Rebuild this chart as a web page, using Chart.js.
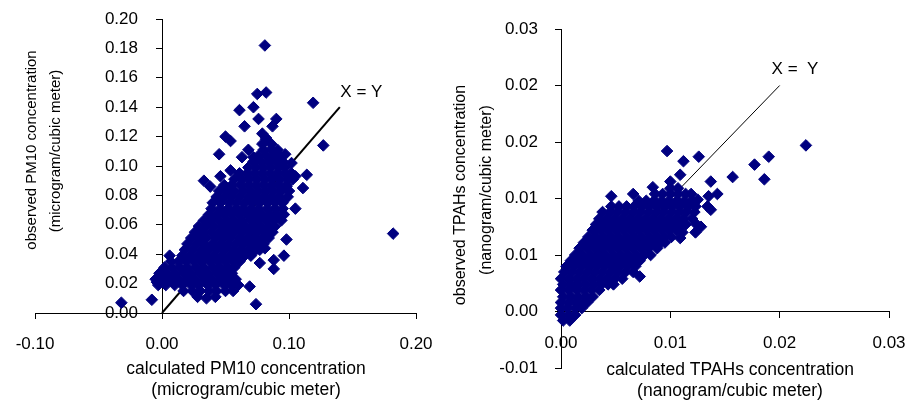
<!DOCTYPE html>
<html>
<head>
<meta charset="utf-8">
<title>Observed vs calculated concentrations</title>
<script src="https://cdn.jsdelivr.net/npm/chart.js@4.4.1/dist/chart.umd.min.js"></script>
<style>
  body { margin: 0; background: #fff; }
  #wrap { position: relative; width: 913px; height: 407px; overflow: hidden; background: #fff; }
  canvas { position: absolute; top: 0; }
  #pm10Chart { left: 0; }
  #tpahChart { left: 448px; }
</style>
</head>
<body>
<div id="wrap">
  <canvas id="pm10Chart" width="448" height="407"></canvas>
  <canvas id="tpahChart" width="465" height="407"></canvas>
</div>
<script>
// ---- PM10 panel ----
const pm10XTicks = [-0.10, 0.00, 0.10, 0.20];
const pm10XLabels = ["-0.10", "0.00", "0.10", "0.20"];
const pm10YTicks = [0.00, 0.02, 0.04, 0.06, 0.08, 0.10, 0.12, 0.14, 0.16, 0.18, 0.20];
const pm10YLabels = ["0.00", "0.02", "0.04", "0.06", "0.08", "0.10", "0.12", "0.14", "0.16", "0.18", "0.20"];
const pm10Identity = [0, 0.14];

// [calculated, observed]
const pm10Points = [
  [.028,.011],[.035,.010],[.042,.011],
  [.017,.015],[.024,.015],[.030,.015],[.037,.015],[.043,.015],[.050,.015],[.056,.015],
  [-.003,.019],[.003,.019],[.010,.019],[.016,.019],[.023,.019],[.029,.019],[.036,.019],[.042,.019],[.049,.019],[.055,.019],[.060,.019],
  [-.005,.023],[.001,.023],[.007,.023],[.013,.023],[.020,.023],[.026,.023],[.033,.023],[.039,.023],[.046,.023],[.052,.023],[.058,.023],
  [-.002,.027],[.004,.027],[.010,.027],[.017,.027],[.023,.027],[.030,.027],[.036,.027],[.043,.027],[.049,.027],[.055,.027],
  [.002,.031],[.008,.031],[.014,.031],[.020,.031],[.027,.031],[.033,.031],[.040,.031],[.046,.031],[.052,.031],[.057,.031],
  [.007,.035],[.013,.035],[.019,.035],[.025,.035],[.031,.035],[.038,.035],[.044,.035],[.050,.035],[.056,.035],[.061,.035],
  [.016,.039],[.022,.039],[.028,.039],[.034,.039],[.041,.039],[.047,.039],[.053,.039],[.059,.039],[.065,.039],[.070,.039],
  [.018,.043],[.024,.043],[.031,.043],[.037,.043],[.043,.043],[.049,.043],[.056,.043],[.062,.043],[.068,.043],[.074,.043],[.077,.043],
  [.020,.047],[.027,.047],[.033,.047],[.040,.047],[.046,.047],[.052,.047],[.058,.047],[.064,.047],[.070,.047],[.076,.047],[.080,.047],
  [.023,.051],[.029,.051],[.035,.051],[.042,.051],[.048,.051],[.054,.051],[.061,.051],[.067,.051],[.073,.051],[.079,.051],[.084,.051],
  [.026,.055],[.032,.055],[.039,.055],[.045,.055],[.051,.055],[.057,.055],[.063,.055],[.069,.055],[.075,.055],[.081,.055],[.087,.055],
  [.029,.059],[.035,.059],[.041,.059],[.048,.059],[.054,.059],[.060,.059],[.066,.059],[.072,.059],[.078,.059],[.084,.059],[.089,.059],
  [.033,.063],[.039,.063],[.045,.063],[.051,.063],[.057,.063],[.063,.063],[.070,.063],[.076,.063],[.082,.063],[.088,.063],[.094,.063],
  [.037,.067],[.043,.067],[.049,.067],[.055,.067],[.061,.067],[.067,.067],[.073,.067],[.079,.067],[.085,.067],[.091,.067],[.096,.067],
  [.039,.071],[.046,.071],[.052,.071],[.058,.071],[.064,.071],[.070,.071],[.076,.071],[.083,.071],[.089,.071],[.095,.071],
  [.040,.075],[.046,.075],[.053,.075],[.059,.075],[.065,.075],[.071,.075],[.077,.075],[.083,.075],[.089,.075],[.095,.075],
  [.043,.079],[.049,.079],[.055,.079],[.061,.079],[.068,.079],[.074,.079],[.080,.079],[.086,.079],[.092,.079],[.099,.079],
  [.045,.083],[.051,.083],[.057,.083],[.064,.083],[.070,.083],[.076,.083],[.082,.083],[.088,.083],[.094,.083],[.100,.083],
  [.049,.087],[.055,.087],[.062,.087],[.068,.087],[.074,.087],[.080,.087],[.086,.087],[.092,.087],[.098,.087],
  [.057,.091],[.063,.091],[.069,.091],[.075,.091],[.081,.091],[.087,.091],[.093,.091],[.099,.091],[.103,.091],
  [.061,.095],[.067,.095],[.073,.095],[.079,.095],[.085,.095],[.091,.095],[.097,.095],[.102,.095],
  [.068,.099],[.074,.099],[.080,.099],[.086,.099],[.092,.099],[.097,.099],
  [.072,.103],[.078,.103],[.084,.103],[.090,.103],[.095,.103],
  [.076,.107],[.082,.107],[.088,.107],[.093,.107],
  [.080,.111],[.086,.111],[.091,.111],
  [.079,.115],[.086,.115],
  [.082,.119],
  // scattered points
  [.081,.182],[.119,.143],[.127,.114],[.182,.054],[-.032,.007],[-.008,.009],[.074,.006],
  [.082,.150],[.075,.149],[.072,.140],[.076,.132],[.061,.138],[.065,.127],[.090,.132],
  [.087,.127],[.050,.120],[.054,.117],[.045,.108],[.079,.122],[.082,.118],[.068,.111],
  [.063,.106],[.072,.106],[.097,.108],[.102,.102],[.054,.097],[.033,.090],[.038,.086],
  [.046,.093],[.114,.094],[.111,.085],[.105,.071],[.105,.093],[.098,.086],[.098,.050],
  [.096,.039],[.088,.036],[.088,.030],[.077,.034],[.081,.044],[.069,.018],[.006,.039],
  [-.004,.021]
];

// ---- TPAHs panel ----
const tpahXTicks = [0.00, 0.01, 0.02, 0.03];
const tpahXLabels = ["0.00", "0.01", "0.02", "0.03"];
const tpahYTicks = [-0.005, 0.000, 0.005, 0.010, 0.015, 0.020, 0.025];
const tpahYLabels = ["-0.01", "0.00", "0.01", "0.01", "0.02", "0.02", "0.03"];
const tpahIdentity = [0, 0.02];

// [calculated, observed]
const tpahPoints = [
  [.0002,-.0008],[.0008,-.0008],
  [.0000,-.0003],[.0007,-.0003],[.0013,-.0003],
  [.0000,.0003],[.0006,.0003],[.0013,.0003],[.0019,.0003],
  [.0000,.0008],[.0007,.0008],[.0014,.0008],[.0021,.0008],[.0024,.0008],
  [.0002,.0013],[.0009,.0013],[.0016,.0013],[.0023,.0013],[.0029,.0013],
  [.0000,.0019],[.0007,.0019],[.0014,.0019],[.0021,.0019],[.0028,.0019],[.0035,.0019],
  [.0002,.0024],[.0009,.0024],[.0016,.0024],[.0023,.0024],[.0030,.0024],[.0037,.0024],[.0043,.0024],[.0048,.0024],
  [.0000,.0029],[.0007,.0029],[.0014,.0029],[.0021,.0029],[.0028,.0029],[.0035,.0029],[.0042,.0029],[.0049,.0029],[.0056,.0029],
  [.0003,.0035],[.0010,.0035],[.0017,.0035],[.0024,.0035],[.0031,.0035],[.0038,.0035],[.0045,.0035],[.0052,.0035],[.0059,.0035],[.0066,.0035],
  [.0005,.0040],[.0012,.0040],[.0019,.0040],[.0026,.0040],[.0033,.0040],[.0040,.0040],[.0047,.0040],[.0054,.0040],[.0061,.0040],[.0068,.0040],
  [.0009,.0045],[.0016,.0045],[.0023,.0045],[.0030,.0045],[.0037,.0045],[.0044,.0045],[.0051,.0045],[.0058,.0045],[.0065,.0045],[.0072,.0045],
  [.0013,.0050],[.0020,.0050],[.0027,.0050],[.0034,.0050],[.0041,.0050],[.0048,.0050],[.0055,.0050],[.0062,.0050],[.0069,.0050],[.0076,.0050],[.0082,.0050],
  [.0017,.0056],[.0024,.0056],[.0031,.0056],[.0038,.0056],[.0045,.0056],[.0052,.0056],[.0059,.0056],[.0066,.0056],[.0073,.0056],[.0080,.0056],[.0088,.0056],
  [.0021,.0061],[.0028,.0061],[.0035,.0061],[.0042,.0061],[.0049,.0061],[.0056,.0061],[.0063,.0061],[.0070,.0061],[.0077,.0061],[.0084,.0061],[.0091,.0061],[.0095,.0061],
  [.0025,.0066],[.0032,.0066],[.0039,.0066],[.0046,.0066],[.0053,.0066],[.0060,.0066],[.0067,.0066],[.0074,.0066],[.0081,.0066],[.0088,.0066],[.0095,.0066],[.0101,.0066],
  [.0029,.0072],[.0036,.0072],[.0043,.0072],[.0050,.0072],[.0057,.0072],[.0064,.0072],[.0071,.0072],[.0078,.0072],[.0085,.0072],[.0092,.0072],[.0099,.0072],[.0106,.0072],
  [.0032,.0077],[.0039,.0077],[.0046,.0077],[.0053,.0077],[.0060,.0077],[.0067,.0077],[.0074,.0077],[.0081,.0077],[.0088,.0077],[.0095,.0077],[.0102,.0077],[.0109,.0077],[.0114,.0077],
  [.0035,.0082],[.0042,.0082],[.0049,.0082],[.0056,.0082],[.0063,.0082],[.0070,.0082],[.0077,.0082],[.0084,.0082],[.0091,.0082],[.0098,.0082],[.0105,.0082],[.0112,.0082],[.0120,.0082],
  [.0038,.0088],[.0045,.0088],[.0052,.0088],[.0059,.0088],[.0066,.0088],[.0073,.0088],[.0080,.0088],[.0087,.0088],[.0094,.0088],[.0101,.0088],[.0108,.0088],[.0115,.0088],[.0122,.0088],
  [.0046,.0093],[.0053,.0093],[.0060,.0093],[.0067,.0093],[.0074,.0093],[.0081,.0093],[.0088,.0093],[.0095,.0093],[.0102,.0093],[.0109,.0093],[.0116,.0093],[.0123,.0093],
  [.0071,.0098],[.0078,.0098],[.0085,.0098],[.0092,.0098],[.0099,.0098],[.0106,.0098],[.0113,.0098],[.0120,.0098],
  [.0086,.0104],[.0093,.0104],[.0100,.0104],[.0107,.0104],[.0114,.0104],[.0119,.0104],
  [.0100,.0109],[.0107,.0109],
  // scattered points
  [.0224,.0147],[.0190,.0137],[.0177,.0130],[.0186,.0117],[.0157,.0119],[.0137,.0115],
  [.0143,.0104],[.0135,.0102],[.0137,.0090],[.0126,.0137],[.0112,.0133],[.0109,.0121],
  [.0097,.0142],[.0100,.0115],[.0084,.0110],[.0066,.0104],[.0046,.0102],[.0125,.0099],
  [.0123,.0070],[.0109,.0065],[.0072,.0031],[.0124,.0077],[.0134,.0093],[.0128,.0075],
  [.0111,.0070]
];

Chart.defaults.font.family = "'Liberation Sans', Arial, sans-serif";
Chart.defaults.color = "#000";

const NAVY = "#000080";
const FONT = "'Liberation Sans', Arial, sans-serif";

// draws axis titles and the "X = Y" note as canvas text
const textPlugin = {
  id: "extraText",
  afterDraw(chart, args, opts) {
    const ctx = chart.ctx;
    (opts.items || []).forEach(t => {
      let x = t.x, y = t.y;
      if (t.dataX !== undefined) {
        x = chart.scales.x.getPixelForValue(t.dataX);
        y = chart.scales.y.getPixelForValue(t.dataY);
      }
      ctx.save();
      ctx.translate(x, y);
      if (t.rotate) ctx.rotate(t.rotate);
      ctx.font = t.font;
      ctx.fillStyle = "#000";
      ctx.textAlign = "center";
      ctx.textBaseline = "middle";
      ctx.fillText(t.text, 0, 0);
      ctx.restore();
    });
  }
};

// a y axis placed at x = 0 puts its labels right on the line; move them left of the ticks
const shiftLabels = {
  id: "shiftLabels",
  beforeDraw(chart, args, opts) {
    if (!opts.axis) return;
    const items = chart.scales[opts.axis].getLabelItems(chart.chartArea);
    if (items._shifted) return;
    items.forEach(it => { it.options.translation[0] -= opts.dx; });
    items._shifted = true;
  }
};

function makeAxis(values, labels, padding, extra) {
  return Object.assign({
    type: "linear",
    min: values[0],
    max: values[values.length - 1],
    afterBuildTicks: scale => { scale.ticks = values.map(v => ({ value: v })); },
    ticks: {
      font: { size: 17 },
      color: "#000",
      padding: padding,
      autoSkip: false,
      maxRotation: 0,
      callback: (v, i) => labels[i]
    },
    grid: { drawOnChartArea: false, drawTicks: true, tickLength: 6, color: "#000", lineWidth: 1 },
    border: { display: true, color: "#000", width: 1 }
  }, extra);
}

function scatterSet(points) {
  return {
    data: points.map(p => ({ x: p[0], y: p[1] })),
    pointStyle: "rectRot",
    pointRadius: 5.8,
    pointBorderWidth: 1,
    pointBackgroundColor: NAVY,
    pointBorderColor: NAVY,
    clip: false
  };
}

function identitySet(ends, width) {
  return {
    data: ends.map(v => ({ x: v, y: v })),
    showLine: true,
    borderColor: "#000",
    borderWidth: width,
    pointRadius: 0
  };
}

new Chart(document.getElementById("pm10Chart"), {
  type: "scatter",
  data: { datasets: [scatterSet(pm10Points), identitySet(pm10Identity, 2)] },
  options: {
    responsive: false,
    animation: false,
    events: [],
    layout: { padding: { left: 35, right: 32, top: 19, bottom: 0 } },
    plugins: {
      legend: { display: false },
      tooltip: { enabled: false },
      shiftLabels: { axis: "y", dx: 24 },
      extraText: {
        items: [
          { text: "observed PM10 concentration", x: 32, y: 150, rotate: -Math.PI / 2, font: "15px " + FONT },
          { text: "(microgram/cubic meter)", x: 56, y: 151, rotate: -Math.PI / 2, font: "15px " + FONT },
          { text: "calculated PM10 concentration", x: 246, y: 369, font: "17.5px " + FONT },
          { text: "(microgram/cubic meter)", x: 246, y: 390, font: "17.5px " + FONT },
          { text: "X = Y", dataX: 0.157, dataY: 0.150, font: "17px " + FONT }
        ]
      }
    },
    scales: {
      x: makeAxis(pm10XTicks, pm10XLabels, 15, {
        position: "bottom",
        afterFit: s => { s.height = 94; }
      }),
      y: makeAxis(pm10YTicks, pm10YLabels, 0, {
        position: { x: 0 },
        afterFit: s => { s.paddingTop = 0; s.paddingBottom = 0; }
      })
    }
  },
  plugins: [textPlugin, shiftLabels]
});

new Chart(document.getElementById("tpahChart"), {
  type: "scatter",
  data: { datasets: [scatterSet(tpahPoints), identitySet(tpahIdentity, 1)] },
  options: {
    responsive: false,
    animation: false,
    events: [],
    layout: { padding: { left: 0, right: 24, top: 29, bottom: 39 } },
    plugins: {
      legend: { display: false },
      tooltip: { enabled: false },
      extraText: {
        items: [
          { text: "observed TPAHs concentration", x: 13, y: 195, rotate: -Math.PI / 2, font: "16px " + FONT },
          { text: "(nanogram/cubic meter)", x: 39, y: 190, rotate: -Math.PI / 2, font: "16px " + FONT },
          { text: "calculated TPAHs concentration", x: 282, y: 370, font: "17.5px " + FONT },
          { text: "(nanogram/cubic meter)", x: 282, y: 391, font: "17.5px " + FONT },
          { text: "X =  Y", dataX: 0.0214, dataY: 0.0214, font: "17px " + FONT }
        ]
      }
    },
    scales: {
      x: makeAxis(tpahXTicks, tpahXLabels, 16, {
        position: { y: 0 },
        afterFit: s => { s.paddingLeft = 0; s.paddingRight = 0; }
      }),
      y: makeAxis(tpahYTicks, tpahYLabels, 17, {
        position: "left",
        afterFit: s => { s.width = 113; }
      })
    }
  },
  plugins: [textPlugin]
});
</script>
</body>
</html>
